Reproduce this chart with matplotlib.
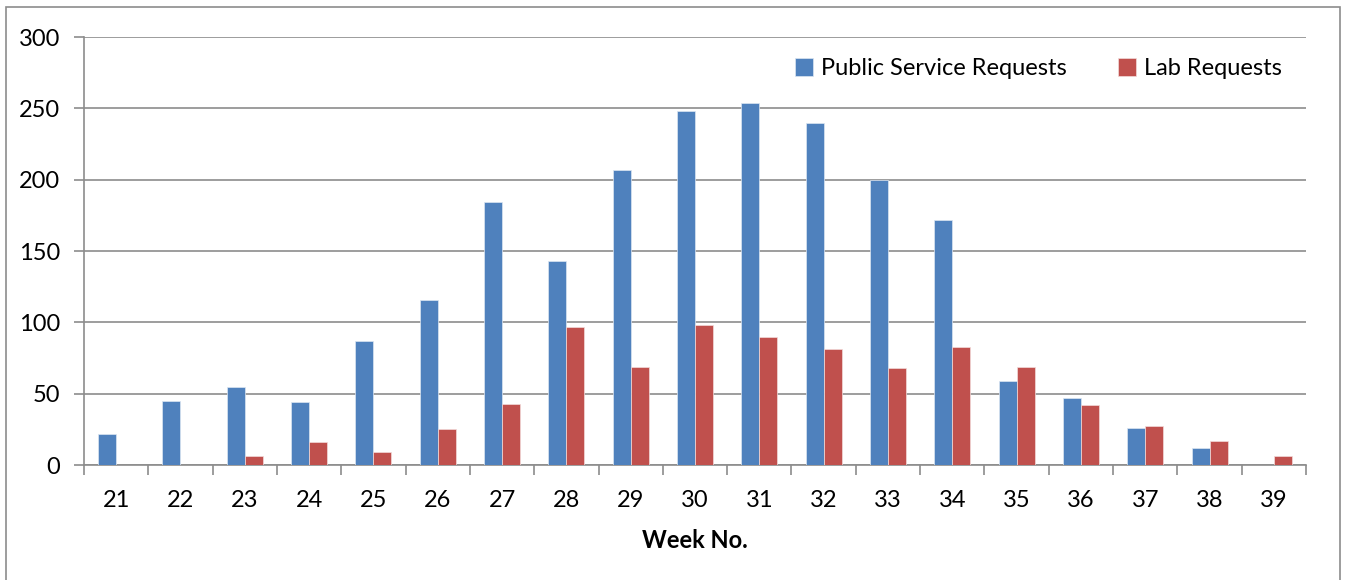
import matplotlib

matplotlib.use("Agg")
import matplotlib.pyplot as plt
import numpy as np
from matplotlib.patches import Rectangle

weeks = [str(w) for w in range(21, 40)]
public_requests = [22, 45, 55, 44, 87, 116, 184, 143, 207, 248, 254, 240, 200, 172, 59, 47, 26, 12, 0]
lab_requests = [0, 0, 6, 16, 9, 25, 43, 97, 69, 98, 90, 81, 68, 83, 69, 42, 27, 17, 6]

C_BLUE = "#4F81BD"
C_RED = "#C0504D"
C_GRID = "#8c8c8c"

plt.rcParams.update({"font.family": ["Lato", "DejaVu Sans"], "font.size": 17})

fig = plt.figure(figsize=(13.46, 5.80), dpi=100)
fig.patches.append(Rectangle((6 / 1346, -0.1), 1334 / 1346, 1.1 - 7 / 580, transform=fig.transFigure,
                             fill=False, edgecolor="#8c8c8c", linewidth=1.2))
ax = fig.add_axes([84 / 1346, 115 / 580, 1222 / 1346, 428 / 580])

x = np.arange(len(weeks))
w = 0.28
ax.bar(x - w / 2, public_requests, w, color=C_BLUE, edgecolor="#dce6f2", linewidth=0.5,
       label="Public Service Requests", zorder=3)
ax.bar(x + w / 2, lab_requests, w, color=C_RED, edgecolor="#f2dcdb", linewidth=0.5,
       label="Lab Requests", zorder=3)

ax.set_xlim(-0.5, len(weeks) - 0.5)
ax.set_ylim(0, 300)
ax.set_yticks(range(0, 301, 50))
ax.yaxis.grid(True, color=C_GRID, linewidth=1.2, zorder=0)
ax.set_axisbelow(True)

ax.set_xticks(np.arange(-0.5, len(weeks), 1.0))
ax.set_xticklabels([])
ax.set_xticks(x, minor=True)
ax.set_xticklabels(weeks, minor=True)
ax.tick_params(axis="x", which="major", length=7, width=1.2, color=C_GRID, direction="out")
ax.tick_params(axis="x", which="minor", length=0, pad=18)
ax.tick_params(axis="y", length=7, width=1.2, color=C_GRID, pad=10)

for side in ("top", "right"):
    ax.spines[side].set_visible(False)
for side in ("left", "bottom"):
    ax.spines[side].set_color(C_GRID)
    ax.spines[side].set_linewidth(1.2)

ax.set_xlabel("Week No.", fontweight="bold", labelpad=13)
ax.legend(loc="upper right", ncol=2, frameon=False, handlelength=0.75, handleheight=0.75,
          columnspacing=2.2, handletextpad=0.35, bbox_to_anchor=(0.998, 1.0))

fig.savefig("out.png", dpi=100)
